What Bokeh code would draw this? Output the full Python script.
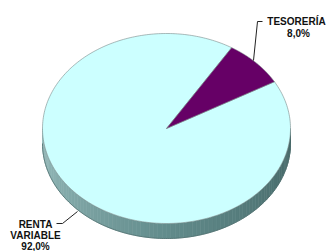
import numpy as np
from bokeh.plotting import figure
from bokeh.models import Range1d
from bokeh.core.properties import value
from bokeh.embed import file_html
from bokeh.resources import INLINE

# ---- data ----
labels = ["RENTA\nVARIABLE", "TESORERÍA"]
values = [92.0, 8.0]
colors = ["#CCFFFF", "#660066"]
start_angle_deg = 58.3

# ---- geometry (screen pixel coordinates) ----
cx, cy, rx, ry, depth = 166.0, 128.0, 124.0, 95.0, 15.0

p = figure(width=326, height=251, output_backend="svg", toolbar_location=None,
           x_range=Range1d(0, 326), y_range=Range1d(251, 0), min_border=0)
p.axis.visible = False
p.grid.visible = False
p.outline_line_color = None
p.background_fill_color = "white"

def ell(theta, dy=0.0):
    return cx + rx * np.cos(theta), cy - ry * np.sin(theta) + dy

# side wall (visible lower half), with gradient
n = 90
th = np.linspace(np.pi, 2 * np.pi, n + 1)
c_left = np.array([0x9A, 0xBE, 0xBE])
c_mid = np.array([0x62, 0x8C, 0x8C])
c_right = np.array([0x45, 0x66, 0x66])
xs, ys, cols = [], [], []
for i in range(n):
    a0, a1 = th[i], th[i + 1]
    t = (i + 0.5) / n
    if t < 0.5:
        c = c_left + (c_mid - c_left) * (t / 0.5)
    else:
        c = c_mid + (c_right - c_mid) * ((t - 0.5) / 0.5)
    x0, y0 = ell(a0)
    x1, y1 = ell(a1)
    xs.append([x0, x1, x1, x0])
    ys.append([y0, y1, y1 + depth, y0 + depth])
    cols.append("#%02x%02x%02x" % tuple(int(v) for v in c))
p.patches(xs, ys, fill_color=cols, line_color=cols, line_width=0.6)
tt = np.linspace(np.pi, 2 * np.pi, 200)
bx, by = ell(tt, depth)
p.line(bx, by, line_color="#4f6f6f", line_width=0.8)

# top face slices
total = sum(values)
a = np.deg2rad(start_angle_deg)
slice_xs, slice_ys = [], []
for v in values:
    span = 2 * np.pi * v / total
    tt = np.linspace(a, a + span, 300)
    ex, ey = ell(tt)
    slice_xs.append([cx] + list(ex) + [cx])
    slice_ys.append([cy] + list(ey) + [cy])
    a += span
p.patches(slice_xs, slice_ys, fill_color=colors, line_color="#7a8a8a", line_width=0.6)

# labels
pct = [f"{v:.1f}".replace(".", ",") + "%" for v in values]
font = value("Liberation Sans")
txt = dict(text_font=font, text_font_size="10px", text_font_style="bold",
           text_align="center", text_baseline="alphabetic", text_color="#111111")
# TESORERÍA
p.line([262, 257, 253], [21, 21, 60], line_color="#222222", line_width=1)
p.text([296], [21], text=[labels[1]], **txt)
p.text([298], [33], text=[pct[1]], **txt)
# RENTA VARIABLE
p.line([56, 62, 77], [223, 223, 211], line_color="#222222", line_width=1)
lines = labels[0].split("\n") + [pct[0]]
for k, s in enumerate(lines):
    p.text([35], [224 + 11 * k], text=[s], **txt)

open("out.html", "w").write(file_html(p, INLINE))
